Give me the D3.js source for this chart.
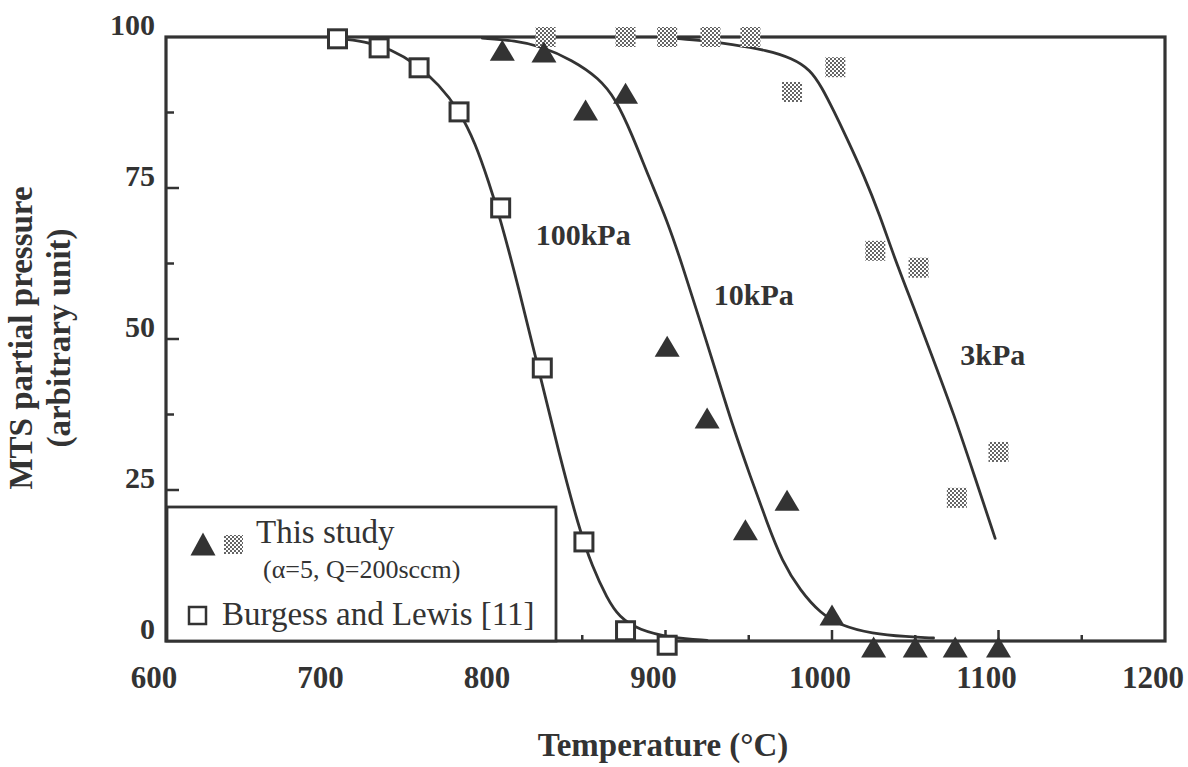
<!DOCTYPE html>
<html><head><meta charset="utf-8">
<script src="https://cdn.jsdelivr.net/npm/d3@7"></script>
<style>
body{margin:0;background:#fff}
text{font-family:"Liberation Serif","Times New Roman",serif;fill:#333}
</style>
</head><body><svg id="c" width="1188" height="767"></svg>
<script>
// ---- data ----
const xTickLabels=[600,700,800,900,1000,1100,1200];
const yTickLabels=[0,25,50,75,100];
// Burgess and Lewis [11] (open squares)
const burgessT=[703,728,752,776,801,826,851,876,901];
const burgessP=[99.7,98.2,94.9,87.6,71.7,45.2,16.4,1.7,-0.7];
// This study, triangles
const triT=[802,827,852,876,901,925,948,973,1000,1025,1050,1074,1100];
const triP=[97.8,97.5,87.9,90.7,48.8,36.9,18.4,23.3,4.3,-1,-1,-1,-1];
// This study, gray squares
const grayT=[828,876,901,927,951,976,1002,1026,1052,1075,1100];
const grayP=[100,100,100,100,100,90.9,95.0,64.6,61.8,23.7,31.3];
// fitted curves
const fit100T=[700,720,735,750,764,776,786,794,800,812,824,836,848,856,865,872,884,904,925];
const fit100P=[99.8,99.3,98.0,95.6,92.1,87.9,82.3,75.8,70.7,58.3,44.7,31.1,18.7,12.3,7.0,4.0,1.8,0.5,0.1];
const fit10T=[790,810,825,844,860,870,880,890,901,910,920,931,940,951,961,970,981,993,1005,1024,1045,1061];
const fit10P=[99.8,99.4,98.5,96.2,93.2,89.8,83.8,76.8,69.6,62.3,53.6,44.0,35.9,27.2,19.6,13.2,8.3,4.6,2.6,1.2,0.7,0.5];
const fit3T=[900,920,940,961,976,987,994,1001,1009,1019,1029,1037,1049,1061,1073,1085,1098];
const fit3P=[99.9,99.5,98.8,97.8,96.5,94.6,91.6,87.8,83.2,77.2,70.3,63.8,55.3,46.5,37.7,27.8,17.0];
const curveLabels=["100kPa","10kPa","3kPa"];
const curveLabelPos=[[822,65.5],[929,55.7],[1077,45.7]];

// ---- drawing ----
const svg=d3.select("#c");
const ink="#333";
const x=d3.scaleLinear().domain([600,1200]).range([166,1165]);
const y=d3.scaleLinear().domain([0,100]).range([641,37]);

const defs=svg.append("defs");
const pat=defs.append("pattern").attr("id","dots").attr("patternUnits","userSpaceOnUse")
  .attr("width",4).attr("height",4);
pat.append("rect").attr("width",4).attr("height",4).attr("fill","#fff");
pat.append("circle").attr("cx",1).attr("cy",1).attr("r",0.95).attr("fill","#222");
pat.append("circle").attr("cx",3).attr("cy",3).attr("r",0.95).attr("fill","#222");

// ticks (inward)
const xt=d3.range(650,1200,50);
svg.append("g").selectAll("line").data(xt).join("line")
  .attr("x1",d=>x(d)).attr("x2",d=>x(d)).attr("y1",y(0))
  .attr("y2",d=>y(0)-(d%100===0?11:6)).attr("stroke",ink).attr("stroke-width",2.5);
const yt=d3.range(12.5,100,12.5);
svg.append("g").selectAll("line").data(yt).join("line")
  .attr("x1",x(600)).attr("x2",d=>x(600)+(d%25===0?13:8))
  .attr("y1",d=>y(d)).attr("y2",d=>y(d)).attr("stroke",ink).attr("stroke-width",2.5);

// frame
svg.append("rect").attr("x",x(600)).attr("y",y(100)).attr("width",x(1200)-x(600))
  .attr("height",y(0)-y(100)).attr("fill","none").attr("stroke",ink).attr("stroke-width",3.2);

// tick labels
svg.append("g").selectAll("text").data(xTickLabels).join("text")
  .attr("x",d=>x(d)-12).attr("y",688).attr("text-anchor","middle")
  .attr("font-size",31).attr("font-weight","bold").text(d=>d);
svg.append("g").selectAll("text").data(yTickLabels).join("text")
  .attr("x",155).attr("y",d=>y(d)-13).attr("dominant-baseline","central").attr("text-anchor","end")
  .attr("font-size",30).attr("font-weight","bold").text(d=>d);

// axis titles
svg.append("text").attr("x",663).attr("y",756).attr("text-anchor","middle")
  .attr("font-size",33).attr("font-weight","bold").text("Temperature (°C)");
const yt1=svg.append("text").attr("transform","translate(32,338) rotate(-90)").attr("text-anchor","middle")
  .attr("font-size",33).attr("font-weight","bold");
yt1.append("tspan").attr("x",0).attr("y",0).text("MTS partial pressure");
yt1.append("tspan").attr("x",0).attr("y",38).text("(arbitrary unit)");

// curves
const line=d3.line().x(d=>x(d[0])).y(d=>y(d[1])).curve(d3.curveBasis);
const curves=[d3.zip(fit100T,fit100P),d3.zip(fit10T,fit10P),d3.zip(fit3T,fit3P)];
svg.append("g").selectAll("path").data(curves).join("path")
  .attr("d",line).attr("fill","none").attr("stroke",ink).attr("stroke-width",2.8)
  .attr("stroke-linecap","round");

// curve labels
svg.append("g").selectAll("text").data(curveLabels).join("text")
  .attr("x",(d,i)=>x(curveLabelPos[i][0])).attr("y",(d,i)=>y(curveLabelPos[i][1]))
  .attr("font-size",30).attr("font-weight","bold").text(d=>d);

// markers
function triPath(cx,cy,w,h){return `M${cx},${cy-h/2}L${cx+w/2},${cy+h/2}L${cx-w/2},${cy+h/2}Z`;}
svg.append("g").selectAll("rect").data(d3.zip(grayT,grayP)).join("rect")
  .attr("x",d=>x(d[0])-10).attr("y",d=>y(d[1])-10).attr("width",20).attr("height",20)
  .attr("fill","url(#dots)");
svg.append("g").selectAll("path").data(d3.zip(triT,triP)).join("path")
  .attr("d",d=>triPath(x(d[0]),y(d[1]),25,21)).attr("fill",ink);
svg.append("g").selectAll("rect").data(d3.zip(burgessT,burgessP)).join("rect")
  .attr("x",d=>x(d[0])-9).attr("y",d=>y(d[1])-9).attr("width",18).attr("height",18)
  .attr("fill","#fff").attr("stroke",ink).attr("stroke-width",3);

// legend
const lg=svg.append("g");
lg.append("rect").attr("x",167).attr("y",507).attr("width",389).attr("height",134)
  .attr("fill","#fff").attr("stroke",ink).attr("stroke-width",2.8);
lg.append("path").attr("d",triPath(203,544,25,23)).attr("fill",ink);
lg.append("rect").attr("x",224).attr("y",535).attr("width",19).attr("height",19).attr("fill","url(#dots)");
lg.append("text").attr("x",256).attr("y",543).attr("font-size",33).text("This study");
lg.append("text").attr("x",263).attr("y",578).attr("font-size",26).text("(α=5, Q=200sccm)");
lg.append("rect").attr("x",189).attr("y",607).attr("width",17).attr("height",17)
  .attr("fill","#fff").attr("stroke",ink).attr("stroke-width",2.5);
lg.append("text").attr("x",222).attr("y",625).attr("font-size",33).text("Burgess and Lewis [11]");
</script>
</body></html>
